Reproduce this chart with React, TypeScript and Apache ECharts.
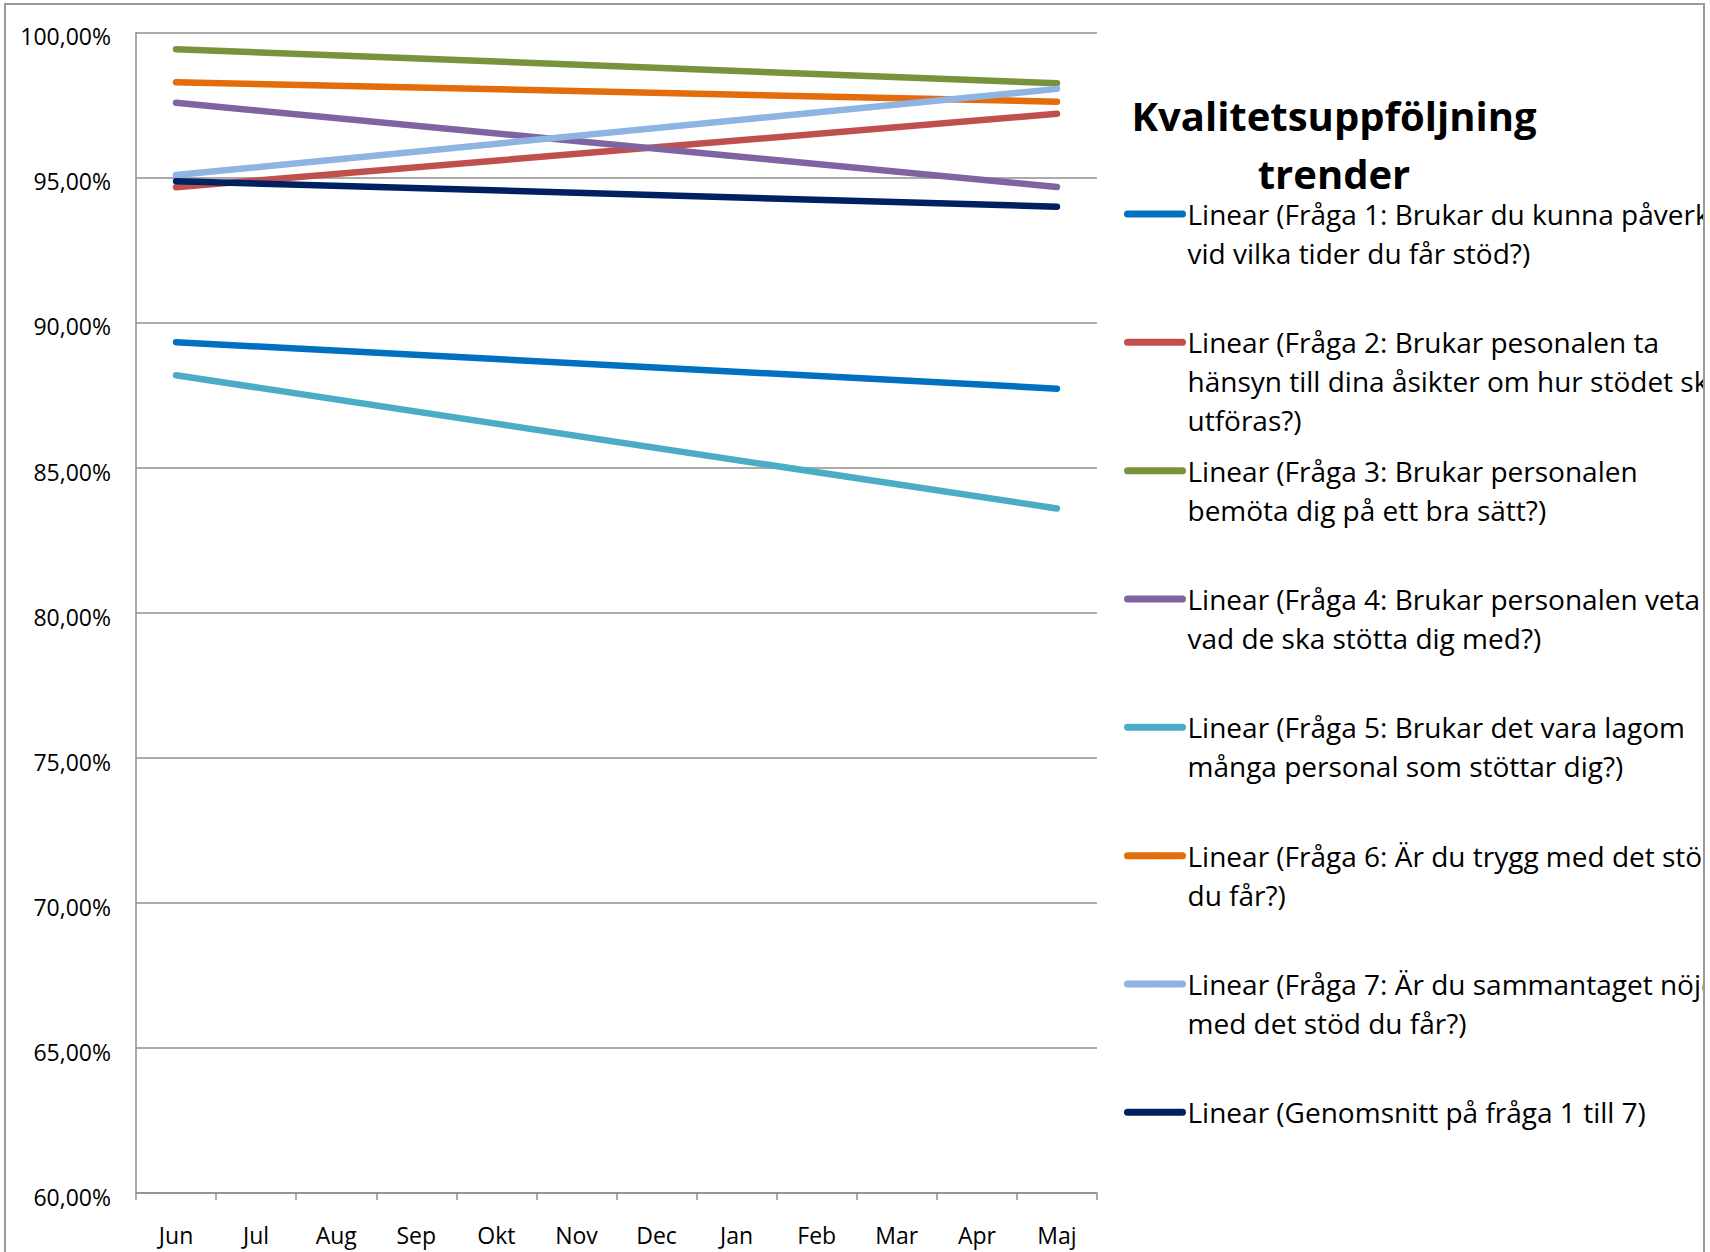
import React, { useEffect, useRef } from "react";
import * as echarts from "echarts";

const months = ["Jun", "Jul", "Aug", "Sep", "Okt", "Nov", "Dec", "Jan", "Feb", "Mar", "Apr", "Maj"];

const seriesNames = [
  "Linear (Fråga 1: Brukar du kunna påverka\nvid vilka tider du får stöd?)",
  "Linear (Fråga 2: Brukar pesonalen ta\nhänsyn till dina åsikter om hur stödet ska\nutföras?)",
  "Linear (Fråga 3: Brukar personalen\nbemöta dig på ett bra sätt?)",
  "Linear (Fråga 4: Brukar personalen veta\nvad de ska stötta dig med?)",
  "Linear (Fråga 5: Brukar det vara lagom\nmånga personal som stöttar dig?)",
  "Linear (Fråga 6: Är du trygg med det stöd som\ndu får?)",
  "Linear (Fråga 7: Är du sammantaget nöjd\nmed det stöd du får?)",
  "Linear (Genomsnitt på fråga 1 till 7)",
];

const seriesColors = ["#0070C0", "#C0504D", "#77933C", "#8064A2", "#4BACC6", "#E46C0A", "#8DB4E2", "#002060"];

// trendline values at Jun and at Maj (percent)
const trendJun = [89.32, 94.66, 99.42, 97.57, 88.18, 98.28, 95.08, 94.87];
const trendMaj = [87.72, 97.19, 98.24, 94.67, 83.59, 97.61, 98.05, 93.99];

const yMin = 60;
const yMax = 100;
const yStep = 5;

const titleText = "Kvalitetsuppföljning\ntrender";

const FONT = '"Open Sans", Lato, "Noto Sans", sans-serif';
const GRAY = "#8f8f8f";

export default function App() {
  const ref = useRef<HTMLDivElement>(null);

  useEffect(() => {
    if (!ref.current) return;
    const chart = echarts.init(ref.current, undefined, { renderer: "svg" });

    const LH = 39;
    const legends = seriesNames.map((name, i) => {
      const n = name.split("\n").length;
      const yc = 214 + i * 128.33;
      return {
        orient: "vertical",
        left: 1124,
        top: yc - ((2 * n - 1) * LH) / 2,
        padding: 0,
        data: [name],
        itemWidth: 55,
        itemHeight: 7,
        selectedMode: false,
        formatter: (nm: string) => "\n".repeat(nm.split("\n").length - 1) + nm,
        lineStyle: { width: 7, cap: "round" },
        itemStyle: { borderWidth: 0 },
        textStyle: {
          fontFamily: FONT,
          fontSize: 28,
          lineHeight: LH,
          color: "#000",
        },
      };
    });

    const series = seriesNames.map((name, i) => ({
      name,
      type: "line",
      data: [
        [months[0], trendJun[i]],
        [months[months.length - 1], trendMaj[i]],
      ],
      symbol: "none",
      showSymbol: false,
      connectNulls: true,
      lineStyle: { width: 6.5, color: seriesColors[i], cap: "round" },
      itemStyle: { color: seriesColors[i] },
      z: 2 + i,
    }));

    chart.setOption({
      animation: false,
      backgroundColor: "#fff",
      title: {
        text: titleText,
        left: 1329,
        top: 81,
        textAlign: "center",
        textStyle: {
          fontFamily: FONT,
          fontWeight: "bold",
          fontSize: 40,
          lineHeight: 58,
          color: "#000",
        },
      },
      legend: legends,
      grid: { left: 136, right: 1705 - 1097, top: 32.3, bottom: 59, containLabel: false },
      xAxis: {
        type: "category",
        data: months,
        boundaryGap: true,
        axisLine: { show: true, lineStyle: { color: GRAY, width: 1.5 } },
        axisTick: { show: true, length: 7, lineStyle: { color: GRAY, width: 1.5 } },
        axisLabel: { fontFamily: FONT, fontSize: 23, color: "#000", margin: 30, interval: 0 },
        splitLine: { show: false },
      },
      yAxis: {
        type: "value",
        min: yMin,
        max: yMax,
        interval: yStep,
        axisLine: { show: true, lineStyle: { color: GRAY, width: 1.5 } },
        axisTick: { show: false },
        axisLabel: {
          fontFamily: FONT,
          fontSize: 23,
          color: "#000",
          margin: 25,
          verticalAlign: "top",
          lineHeight: 8,
          formatter: (v: number) => v.toFixed(2).replace(".", ",") + "%",
        },
        splitLine: { show: true, lineStyle: { color: GRAY, width: 1.5 } },
      },
      graphic: [
        {
          type: "rect",
          z: 100,
          silent: true,
          shape: { x: 5, y: 4, width: 1699, height: 1300 },
          style: { fill: "none", stroke: "#9a9a9a", lineWidth: 2 },
        },
      ],
      series,
    });

    return () => {
      chart.dispose();
    };
  }, []);

  return (
    <div style={{ position: "absolute", left: 0, top: 0, width: 1710, height: 1252, background: "#fff" }}>
      <div ref={ref} style={{ width: 1705, height: 1252 }} />
    </div>
  );
}
